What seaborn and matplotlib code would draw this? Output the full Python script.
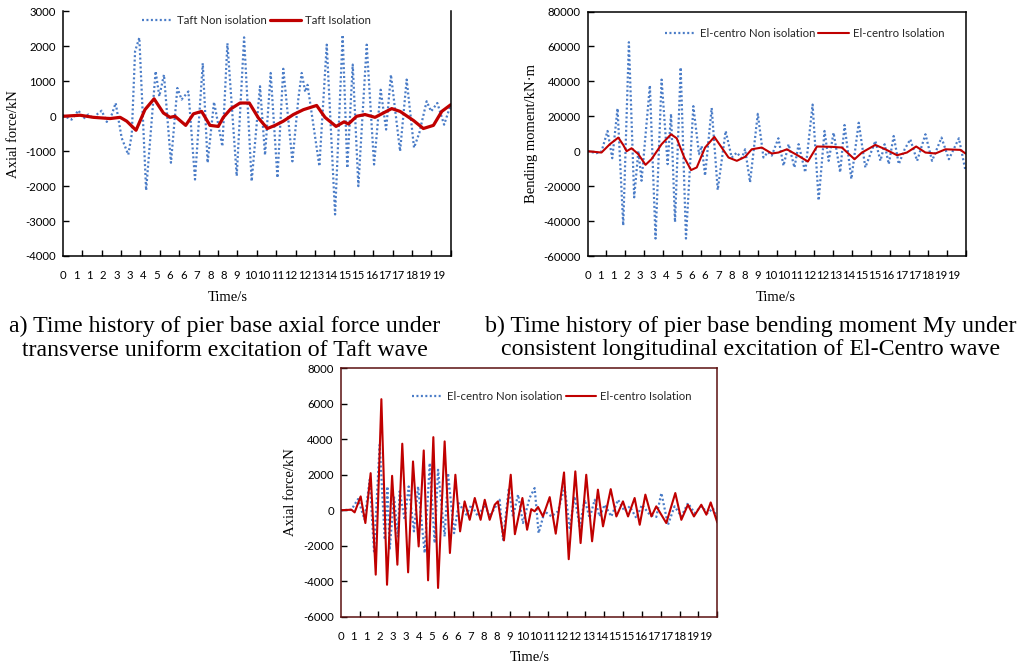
import numpy as np
import pandas as pd
import matplotlib
matplotlib.use("Agg")
import matplotlib.pyplot as plt
import seaborn as sns

# ---------------- data ----------------
x_tick_labels = ["0", "1", "1", "2", "3", "3", "4", "5", "6", "6", "7", "8", "8", "9",
                 "10", "10", "11", "12", "12", "13", "14", "15", "15", "16", "17", "17",
                 "18", "19", "19"]

# a) Taft, axial force (kN)
taft_non_t = [0, 0.46, 0.81, 1.07, 1.32, 1.58, 1.79, 2.01, 2.27, 2.53, 2.73, 3.04, 3.38, 3.56,
              3.73, 3.95, 4.30, 4.79, 4.98, 5.22, 5.58, 5.91, 6.13, 6.48, 6.82, 7.22, 7.47,
              7.80, 8.23, 8.49, 8.97, 9.35, 9.74, 10.17, 10.43, 10.72, 11.07, 11.37, 11.84,
              12.15, 12.32, 12.50, 12.62, 13.23, 13.61, 14.04, 14.43, 14.67, 14.95, 15.24,
              15.67, 16.05, 16.39, 16.67, 16.92, 17.39, 17.73, 18.11, 18.38, 18.76, 18.99,
              19.31, 19.66, 20.0]
taft_non_v = [30, -95, 170, -65, 50, -65, 65, 160, -160, 50, 380, -620, -1100, -520,
              1860, 2250, -2120, 1290, 570, 1190, -1330, 810, 480, 710, -1810, 1520, -1330,
              410, -860, 2090, -1710, 2260, -1860, 860, -1110, 1240, -1760, 1360, -1290,
              520, 1240, 700, 900, -1430, 2050, -2810, 2330, -1480, 1480, -2000,
              2050, -1380, 760, -380, 1190, -1000, 1050, -900, -480, 430, 140,
              380, -240, 330]
taft_iso_t = [0, 0.9, 1.58, 2.44, 2.96, 3.3, 3.78, 4.24, 4.71, 5.19, 5.53, 5.79, 6.34, 6.74,
              7.16, 7.59, 8.02, 8.28, 8.66, 9.14, 9.62, 10.09, 10.55, 10.95, 11.37, 11.89,
              12.41, 13.09, 13.52, 14.09, 14.5, 14.73, 15.15, 15.58, 16.1, 16.96, 17.39,
              18.08, 18.59, 19.11, 19.54, 20.0]
taft_iso_v = [0, 30, -30, -65, -30, -140, -400, 190, 500, 95, -30, 0, -260, 70,
              140, -260, -290, -30, 210, 380, 380, -50, -350, -260, -140, 50,
              190, 310, -30, -290, -160, -220, 0, 50, -30, 220, 140,
              -120, -350, -260, 140, 330]

# b) El-centro, bending moment My (kN·m)
elc_m_non_t = [0, 0.48, 0.74, 1.06, 1.31, 1.59, 1.89, 2.19, 2.47, 2.69, 2.86, 3.30, 3.60, 3.92,
               4.24, 4.42, 4.63, 4.93, 5.21, 5.60, 5.90, 6.04, 6.22, 6.57, 6.89, 7.31, 7.63,
               7.90, 8.16, 8.34, 8.60, 9.01, 9.31, 9.55, 9.75, 10.10, 10.37, 10.64, 10.95,
               11.17, 11.52, 11.91, 12.23, 12.54, 12.76, 13.02, 13.37, 13.60, 13.96, 14.35,
               14.70, 15.23, 15.50, 15.72, 15.94, 16.20, 16.47, 16.78, 17.08, 17.44, 17.88,
               18.23, 18.73, 19.12, 19.65, 20.0]
elc_m_non_v = [0, -1100, -200, 11600, -4000, 24500, -42500, 62400, -26400, 200, -16900, 37700,
               -50000, 41000, -7400, 21400, -40600, 48000, -50000, 25800, -1700, 3000, -14000,
               24800, -22200, 11600, -3600, -800, -4000, 1100, -17800, 21400, -3600, -500,
               -2500, 7400, -8300, 4000, -9300, 4000, -12100, 26700, -28200, 11600, -5500,
               10600, -12100, 15000, -15900, 16300, -9300, 5900, -5500, 4000, -7400, 8700,
               -7400, 1100, 6800, -5500, 9700, -5500, 7800, -4600, 7400, -11200]
elc_m_iso_t = [0, 0.74, 1.18, 1.63, 1.89, 2.07, 2.33, 2.69, 3.07, 3.39, 3.92, 4.42, 4.72, 5.12,
               5.48, 5.78, 6.22, 6.71, 7.1, 7.46, 7.9, 8.34, 8.69, 9.22, 9.75, 10.1, 10.55,
               11.17, 11.66, 12.14, 12.93, 13.46, 14.13, 14.52, 15.23, 15.76, 16.38, 16.9,
               17.39, 17.88, 18.41, 18.94, 19.73, 20.0]
elc_m_iso_v = [0, -760, 4000, 7800, 3600, 0, 1700, -1700, -7800, -4500, 4000, 9700, 7400, -3600,
               -10800, -9300, 2100, 8200, 2100, -3600, -5500, -3200, 1100, 2100, -1300, -760,
               1100, -2700, -5900, 2700, 2500, 2100, -4600, -760, 3600, 1100, -2300, -760,
               2700, -760, -1300, 1100, 760, -1300]

# c) El-centro, axial force (kN)
elc_n_non_t = [0, 0.57, 0.92, 1.27, 1.54, 1.77, 2.07, 2.34, 2.48, 2.60, 2.83, 3.04, 3.13, 3.40,
               3.61, 3.89, 4.11, 4.46, 4.73, 4.99, 5.17, 5.52, 5.70, 6.02, 6.27, 6.67, 6.94,
               7.29, 7.65, 7.91, 8.18, 8.44, 8.62, 8.92, 9.15, 9.42, 9.68, 10.03, 10.30, 10.51,
               10.83, 11.19, 11.54, 11.89, 12.16, 12.42, 12.69, 12.96, 13.22, 13.49, 13.75,
               14.02, 14.37, 14.73, 15.08, 15.35, 15.70, 16.00, 16.41, 16.76, 17.03, 17.38,
               17.73, 18.09, 18.44, 18.80, 19.15, 19.50, 19.77, 20.0]
elc_n_non_v = [0, 30, 630, -530, 1720, -2320, 3690, -1660, 1340, -2220, 780, -1480, 1060, -540,
               1340, -1190, 1340, -2410, 2660, -1850, 2280, -1480, 2090, -1290, 400, -250, 310,
               -350, 310, -350, 120, 590, -1660, 1160, -350, 880, -720, 690, 1250, -1290,
               -60, -350, -60, 1310, -1000, 780, -910, 590, -440, 590, -350,
               310, -350, 590, -60, 220, -440, 310, -250, -380, 970, -820,
               220, -350, 400, -160, 220, -160, 120, -530]
elc_n_iso_t = [0, 0.57, 0.74, 1.06, 1.31, 1.59, 1.86, 2.16, 2.46, 2.73, 3.01, 3.27, 3.58, 3.84,
               4.14, 4.41, 4.64, 4.92, 5.17, 5.52, 5.80, 6.09, 6.34, 6.58, 6.85, 7.12, 7.43,
               7.65, 7.91, 8.18, 8.35, 8.67, 9.03, 9.25, 9.65, 9.90, 10.12, 10.30, 10.48, 10.74,
               11.10, 11.42, 11.86, 12.11, 12.46, 12.74, 13.04, 13.35, 13.66, 13.93, 14.34,
               14.64, 14.99, 15.26, 15.61, 15.88, 16.18, 16.50, 16.76, 17.29, 17.77, 18.09,
               18.44, 18.76, 19.15, 19.42, 19.65, 20.0]
elc_n_iso_v = [0, 30, -120, 780, -720, 2090, -3630, 6260, -4200, 1940, -3070, 3750, -3500, 2750,
               -2040, 3370, -3950, 4120, -4380, 3880, -2410, 2000, -1190, 500, -540, 690, -540,
               590, -540, 310, 500, -1700, 2000, -1350, 690, -1100, 60, -60, 180, -350,
               740, -1320, 2130, -2760, 2190, -1850, 2000, -1750, 1160, -910, 1190,
               -350, 500, -350, 690, -820, 880, -350, 220, -720, 970, -540,
               310, -350, 310, -250, 440, -690]

# ---------------- style ----------------
sns.set_theme(style="white")
plt.rcParams["font.family"] = ["Lato", "DejaVu Sans"]
plt.rcParams["axes.linewidth"] = 1.1

BLUE = "#4A7CC7"
RED = "#C00000"
SERIF = ["Liberation Serif", "DejaVu Serif"]
TICK_FS = 8.2

fig = plt.figure(figsize=(10.25, 6.64), dpi=100)
fig.patch.set_facecolor("white")

ax_a = fig.add_axes([62.7 / 1025, 1 - 256 / 664, 388 / 1025, 244.5 / 664])
ax_b = fig.add_axes([587.5 / 1025, 1 - 256 / 664, 378 / 1025, 244.5 / 664])
ax_c = fig.add_axes([340.7 / 1025, 1 - 616.7 / 664, 376.6 / 1025, 248.4 / 664])


def draw(ax, t1, v1, t2, v2, lab1, lab2, red_lw, ylim, ystep, ylabel, ylab_x,
         xlab_x, xlab_y, leg_xy, full_box, frame_color="black"):
    d1 = pd.DataFrame({"t": t1, "v": v1})
    d2 = pd.DataFrame({"t": t2, "v": v2})
    sns.lineplot(data=d1, x="t", y="v", ax=ax, color=BLUE, lw=1.6,
                 linestyle=(0, (0.9, 1.1)), label=lab1, estimator=None, sort=False)
    sns.lineplot(data=d2, x="t", y="v", ax=ax, color=RED, lw=red_lw,
                 label=lab2, estimator=None, sort=False)
    ax.set_xlim(0, 20)
    ax.set_ylim(*ylim)
    ax.set_yticks(np.arange(ylim[0], ylim[1] + 1, ystep))
    ax.set_yticklabels([f"{int(v)}" for v in np.arange(ylim[0], ylim[1] + 1, ystep)],
                       fontsize=TICK_FS)
    step = 19.37 / 28
    ax.set_xticks([k * step for k in range(len(x_tick_labels))])
    ax.set_xticklabels(x_tick_labels, fontsize=TICK_FS)
    ax.set_xticks(np.arange(0, 21, 1), minor=True)
    ax.tick_params(axis="x", which="major", length=0, pad=10, colors="black")
    ax.tick_params(axis="x", which="minor", direction="in", length=4, width=1,
                   bottom=True, color="black")
    ax.tick_params(axis="y", which="major", direction="in", length=4, width=1,
                   left=True, pad=5, colors="black")
    ax.set_xlabel("Time/s", family=SERIF, fontsize=10.5, color="black")
    ax.xaxis.set_label_coords(xlab_x, xlab_y)
    ax.set_ylabel(ylabel, family=SERIF, fontsize=10.5, color="black")
    ax.yaxis.set_label_coords(ylab_x, 0.5)
    for s in ["left", "bottom", "top", "right"]:
        ax.spines[s].set_color(frame_color)
    if not full_box:
        ax.spines["top"].set_visible(False)
    ax.legend(loc="center", bbox_to_anchor=leg_xy, ncol=2, frameon=False,
              handlelength=2.7, handletextpad=0.35, columnspacing=0.3,
              fontsize=8.2, borderaxespad=0)
    ax.grid(False)


draw(ax_a, taft_non_t, taft_non_v, taft_iso_t, taft_iso_v,
     "Taft Non isolation", "Taft Isolation", 2.3, (-4000, 3000), 1000,
     "Axial force/kN", -0.11, 0.425, -0.145, (0.5, 0.965), False)
draw(ax_b, elc_m_non_t, elc_m_non_v, elc_m_iso_t, elc_m_iso_v,
     "El-centro Non isolation", "El-centro Isolation", 1.5, (-60000, 80000), 20000,
     "Bending moment/kN·m", -0.131, 0.497, -0.145, (0.575, 0.91), True)
draw(ax_c, elc_n_non_t, elc_n_non_v, elc_n_iso_t, elc_n_iso_v,
     "El-centro Non isolation", "El-centro Isolation", 1.5, (-6000, 8000), 2000,
     "Axial force/kN", -0.116, 0.503, -0.138, (0.561, 0.886), True, frame_color="#5a1010")

# captions
cap_fs = 17.2
fig.text(225 / 1025, 1 - 326 / 664, "a) Time history of pier base axial force under",
         family=SERIF, fontsize=cap_fs, ha="center", va="center", color="black")
fig.text(225 / 1025, 1 - 350 / 664, "transverse uniform excitation of Taft wave",
         family=SERIF, fontsize=cap_fs, ha="center", va="center", color="black")
fig.text(751 / 1025, 1 - 326 / 664, "b) Time history of pier base bending moment My under",
         family=SERIF, fontsize=cap_fs, ha="center", va="center", color="black")
fig.text(751 / 1025, 1 - 350 / 664, "consistent longitudinal excitation of El-Centro wave",
         family=SERIF, fontsize=cap_fs, ha="center", va="center", color="black")

fig.savefig("out.png", dpi=100, facecolor="white")
